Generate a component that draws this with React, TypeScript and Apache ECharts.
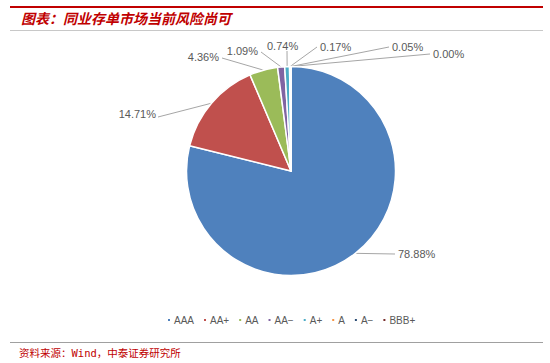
import React, { useEffect, useRef } from "react";
import * as echarts from "echarts";

const categories = ["AAA", "AA+", "AA", "AA−", "A+", "A", "A−", "BBB+"];
const shares = [78.88, 14.71, 4.36, 1.09, 0.74, 0.17, 0.05, 0.0];
const colors = ["#4f81bd", "#c0504d", "#9bbb59", "#8064a2", "#4bacc6", "#f79646", "#2c4d75", "#772c2a"];

const titleText = "图表：同业存单市场当前风险尚可";
const sourceText = "资料来源：Wind，中泰证券研究所";

// label anchor [x, y, align] and line elbow point [x, y]
const labelAnchors: [number, number, string][] = [
  [398, 254, "left"],
  [156, 114, "right"],
  [219, 57, "right"],
  [258, 51, "right"],
  [267, 46, "left"],
  [320, 47, "left"],
  [392, 47, "left"],
  [433, 54, "left"],
];
const lineElbows: [number, number][] = [
  [395, 254],
  [158, 117],
  [222, 58],
  [261, 52],
  [287, 51],
  [317, 47],
  [389, 47],
  [430, 54],
];

export default function App() {
  const ref = useRef<HTMLDivElement>(null);
  useEffect(() => {
    if (!ref.current) return;
    const chart = echarts.init(ref.current, null, { renderer: "svg" });
    const option: any = {
      animation: false,
      backgroundColor: "#ffffff",
      color: colors,
      graphic: [
        { type: "rect", shape: { x: 10, y: 6, width: 533, height: 2 }, style: { fill: "#c00000" } },
        { type: "rect", shape: { x: 10, y: 30, width: 533, height: 1 }, style: { fill: "#c8c8c8" } },
        { type: "rect", shape: { x: 10, y: 342, width: 533, height: 1 }, style: { fill: "#a0a0a0" } },
        {
          type: "text",
          x: 21,
          y: 18,
          style: {
            text: titleText,
            fill: "#c00000",
            font: "italic bold 14px 'Noto Sans CJK SC'",
            textVerticalAlign: "middle",
          },
        },
        {
          type: "text",
          x: 19,
          y: 353,
          style: {
            text: sourceText,
            fill: "#c00000",
            font: "10.5px 'DejaVu Sans Mono', 'Noto Sans CJK SC'",
            textVerticalAlign: "middle",
          },
        },
      ],
      legend: {
        data: categories,
        left: 166,
        top: 315,
        icon: "rect",
        itemWidth: 4,
        itemHeight: 4,
        itemGap: 8,
        padding: 0,
        textStyle: { fontSize: 10, color: "#595959", fontFamily: "Liberation Sans", padding: [0, 0, 0, -2] },
      },
      series: [
        {
          type: "pie",
          center: [291, 171],
          radius: 104.5,
          startAngle: 90,
          clockwise: true,
          avoidLabelOverlap: false,
          stillShowZeroSum: true,
          data: categories.map((c, i) => ({ name: c, value: shares[i] })),
          itemStyle: { borderColor: "#ffffff", borderWidth: 1.5 },
          label: {
            show: true,
            position: "outside",
            formatter: (p: any) => p.value.toFixed(2) + "%",
            fontSize: 11,
            color: "#595959",
            fontFamily: "Liberation Sans",
          },
          labelLine: { show: true, length: 10, length2: 10, lineStyle: { color: "#a6a6a6", width: 1 } },
          labelLayout: (params: any) => {
            const i = params.dataIndex;
            const a = labelAnchors[i];
            const e = lineElbows[i];
            const pts = params.labelLinePoints;
            const start = pts && pts[0] ? pts[0] : e;
            return {
              x: a[0],
              y: a[1],
              align: a[2],
              verticalAlign: "middle",
              labelLinePoints: [start, e, e],
            };
          },
        },
      ],
    };
    chart.setOption(option);
    return () => chart.dispose();
  }, []);
  return (
    <div
      ref={ref}
      style={{ position: "fixed", left: 0, top: 0, width: 550, height: 363, background: "#fff" }}
    />
  );
}
